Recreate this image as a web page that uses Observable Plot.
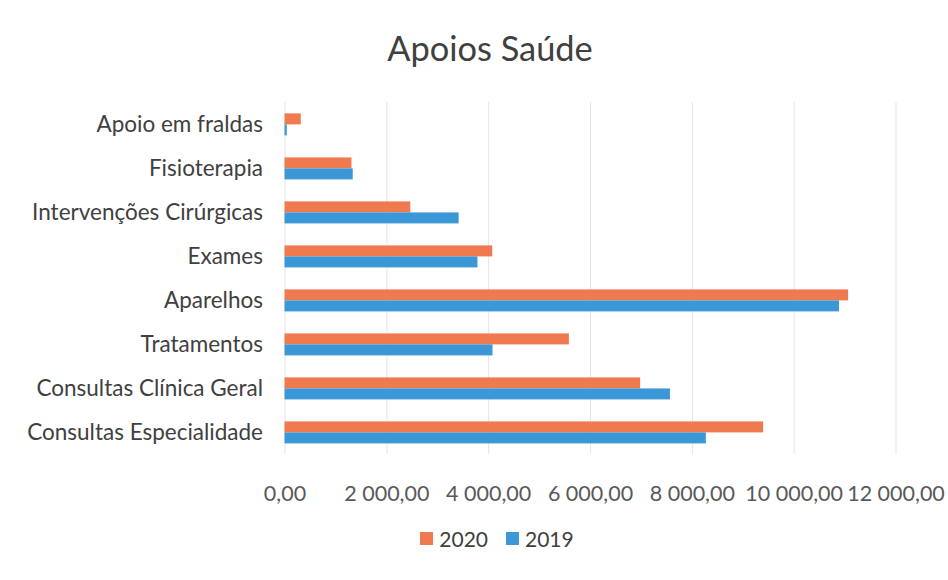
<!DOCTYPE html>
<html>
<head>
<meta charset="utf-8">
<script src="https://cdn.jsdelivr.net/npm/d3@7"></script>
<script src="https://cdn.jsdelivr.net/npm/@observablehq/plot@0.6"></script>
<style>
  html, body { margin: 0; padding: 0; background: #ffffff; }
  body { width: 948px; height: 580px; overflow: hidden; font-family: Lato, "Open Sans", sans-serif; }
  #title { height: 90px; line-height: 96px; padding-left: 32px; text-align: center; font-size: 34.4px; color: #404040; }
  #chart { height: 420px; }
  #legend { height: 70px; display: flex; justify-content: center; align-items: flex-start; padding-left: 46px; padding-top: 16px; box-sizing: border-box; font-size: 21px; color: #404040; }
  .item { display: flex; align-items: center; margin: 0 9px; }
  .sw { width: 13px; height: 13px; margin-right: 6px; }
</style>
</head>
<body>
<div id="title">Apoios Saúde</div>
<div id="chart"></div>
<div id="legend"></div>
<script>
const categories = ["Apoio em fraldas", "Fisioterapia", "Intervenções Cirúrgicas", "Exames", "Aparelhos", "Tratamentos", "Consultas Clínica Geral", "Consultas Especialidade"];
const values2020 = [320, 1315, 2470, 4080, 11070, 5585, 6985, 9400];
const values2019 = [45, 1340, 3420, 3790, 10890, 4085, 7570, 8275];
const series = ["2020", "2019"];
const seriesColors = ["#ef7a4f", "#3c97d6"];
const xTicks = [0, 2000, 4000, 6000, 8000, 10000, 12000];

const rows = categories.flatMap((c, i) => [
  {category: c, year: series[0], value: values2020[i]},
  {category: c, year: series[1], value: values2019[i]}
]);

const locale = d3.formatLocale({decimal: ",", thousands: " ", grouping: [3], currency: ["", " €"]});
const fmt = locale.format(",.2f");

const chart = Plot.plot({
  width: 948,
  height: 420,
  marginLeft: 284.5,
  marginRight: 52.5,
  marginTop: 9.6,
  marginBottom: 52.6,
  style: {fontFamily: "Lato, 'Open Sans', sans-serif", background: "transparent", color: "#404040"},
  facet: {data: rows, y: "category", marginLeft: 284.5},
  fy: {domain: categories, padding: 0, label: null, axis: "left", tickSize: 0, tickPadding: 22},
  y: {domain: series, axis: null, paddingInner: 0, paddingOuter: 1},
  x: {domain: [0, 12000], ticks: xTicks, tickFormat: fmt, tickSize: 0, tickPadding: 31, label: null},
  color: {domain: series, range: seriesColors},
  marks: [
    Plot.ruleX(xTicks, {stroke: "#e4e4e4", strokeWidth: 1}),
    Plot.barX(rows, {x: "value", y: "year", fill: "year"})
  ]
});
document.getElementById("chart").appendChild(chart);

// font sizes for axes
d3.select(chart).selectAll("g[aria-label]").each(function() {
  const lab = this.getAttribute("aria-label") || "";
  if (lab.startsWith("fy-axis")) {
    d3.select(this).attr("font-size", 22.5).attr("fill", "#404040");
    d3.select(this).selectAll("text").attr("font-size", 22.5).attr("fill", "#404040");
  } else if (lab.startsWith("x-axis")) {
    d3.select(this).attr("font-size", 21.5).attr("fill", "#595959");
    d3.select(this).selectAll("text").attr("font-size", 21.5).attr("fill", "#595959");
  }
});

const legend = d3.select("#legend");
series.forEach((s, i) => {
  const it = legend.append("div").attr("class", "item");
  it.append("div").attr("class", "sw").style("background", seriesColors[i]);
  it.append("span").text(s);
});
</script>
</body>
</html>
